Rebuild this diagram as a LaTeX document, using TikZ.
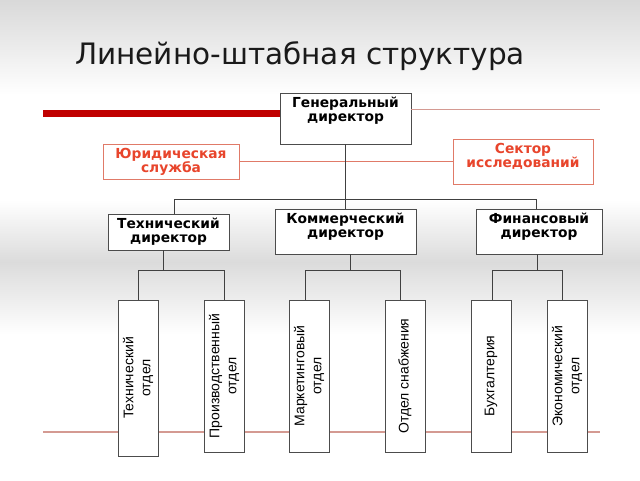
\documentclass[tikz,border=0pt]{standalone}
\usepackage{fontspec}
\setmainfont{DejaVu Sans}
\newfontfamily\deptfont{Liberation Sans}
\usepackage{graphicx}

\definecolor{rojo}{HTML}{E8452C}
\definecolor{rojoborde}{HTML}{E07A68}
\definecolor{barra}{HTML}{C00000}
\definecolor{lineaclara}{HTML}{D49A92}
\definecolor{gristitulo}{HTML}{1A1A1A}

% texto arriba dentro de la caja
\newcommand{\toptext}[3]{\parbox[c][#1][t]{#2}{\centering\rule{0pt}{14pt}#3}}
% texto vertical
\newcommand{\vtext}[1]{\rotatebox{90}{\parbox{148pt}{\centering #1}}}

\begin{document}
\begin{tikzpicture}[x=1pt, y=-1pt,
  jefe/.style={draw=black!70, line width=0.8pt, fill=white, inner sep=0pt,
    font=\fontsize{13.8}{14.5}\selectfont\bfseries},
  staff/.style={draw=rojoborde, line width=0.8pt, fill=white, inner sep=0pt,
    text=rojo, font=\fontsize{13.8}{14.5}\selectfont\bfseries},
  depto/.style={draw=black!70, line width=0.8pt, fill=white, inner sep=0pt,
    minimum width=40pt, minimum height=152pt,
    font=\deptfont\fontsize{14}{17}\selectfont},
  linea/.style={draw=black!75, line width=0.8pt}]
  \useasboundingbox (0,0) rectangle (640,480);

  % Fondo
  \fill[white] (0,0) rectangle (640,480);
  \shade[top color=black!15, bottom color=white] (0,0) rectangle (640,95);
  \shade[top color=white, bottom color=black!14] (0,200) rectangle (640,262);
  \shade[top color=black!14, bottom color=white] (0,262) rectangle (640,335);

  % Titulo
  \node[anchor=base west, inner sep=0pt, text=gristitulo,
    font=\fontsize{29.5}{30}\selectfont] (titulo) at (75,64) {Линейно-штабная структура};

  % Lineas rojas
  \coordinate (baseI) at (43,432);
  \coordinate (baseD) at (600,432);
  \draw[lineaclara, line width=1.2pt] (baseI) -- (baseD);

  % Nodos
  \node[jefe] (gd) at (345.5,118.5) {\toptext{51pt}{131pt}{Генеральный\\директор}};
  \node[staff] (jur) at (171,161.5) {\toptext{35pt}{136pt}{Юридическая\\служба}};
  \node[staff] (sek) at (523,161.5) {\toptext{45pt}{140pt}{Сектор\\исследований}};
  \node[jefe] (tech) at (168.5,232) {\toptext{36pt}{121pt}{Технический\\директор}};
  \node[jefe] (comm) at (345.5,231.5) {\toptext{45pt}{141pt}{Коммерческий\\директор}};
  \node[jefe] (fin) at (539,231.5) {\toptext{45pt}{126pt}{Финансовый\\директор}};

  \node[depto, minimum height=156pt] (c1) at (138,378) {\vtext{Технический\\отдел}};
  \node[depto] (c2) at (224,376) {\vtext{Производственный\\отдел}};
  \node[depto] (c3) at (309,376) {\vtext{Маркетинговый\\отдел}};
  \node[depto] (c4) at (405,376) {\vtext{Отдел снабжения}};
  \node[depto] (c5) at (491,376) {\vtext{Бухгалтерия}};
  \node[depto] (c6) at (567,376) {\vtext{Экономический\\отдел}};

  \coordinate (barI) at (43,113);
  \coordinate (lnD) at (600,109);
  \draw[barra, line width=7pt] (barI) -- (barI -| gd.west);
  \draw[lineaclara, line width=1pt] (gd.east |- lnD) -- (lnD);
  \draw[rojoborde, line width=1pt] (jur.east) -- (sek.west);

  % Conexiones
  \coordinate (busL) at (174,199);
  \coordinate (busR) at (536,199);
  \coordinate (tb) at (163,270);
  \coordinate (cb) at (350,270);
  \coordinate (fb) at (537,270);

  \draw[linea] (gd) -- (comm);
  \draw[linea] (busL |- tech.north) -- (busL) -- (busR) -- (busR |- fin.north);

  \draw[linea] (tech.south -| tb) -- (tb);
  \draw[linea] (c1.north) -- (c1.north |- tb) -- (c2.north |- tb) -- (c2.north);
  \draw[linea] (comm.south -| cb) -- (cb);
  \draw[linea] ([xshift=-4pt]c3.north) -- ([xshift=-4pt]c3.north |- cb)
    -- ([xshift=-5pt]c4.north |- cb) -- ([xshift=-5pt]c4.north);
  \draw[linea] (fin.south -| fb) -- (fb);
  \draw[linea] ([xshift=1pt]c5.north) -- ([xshift=1pt]c5.north |- fb)
    -- ([xshift=-5pt]c6.north |- fb) -- ([xshift=-5pt]c6.north);
\end{tikzpicture}
\end{document}
